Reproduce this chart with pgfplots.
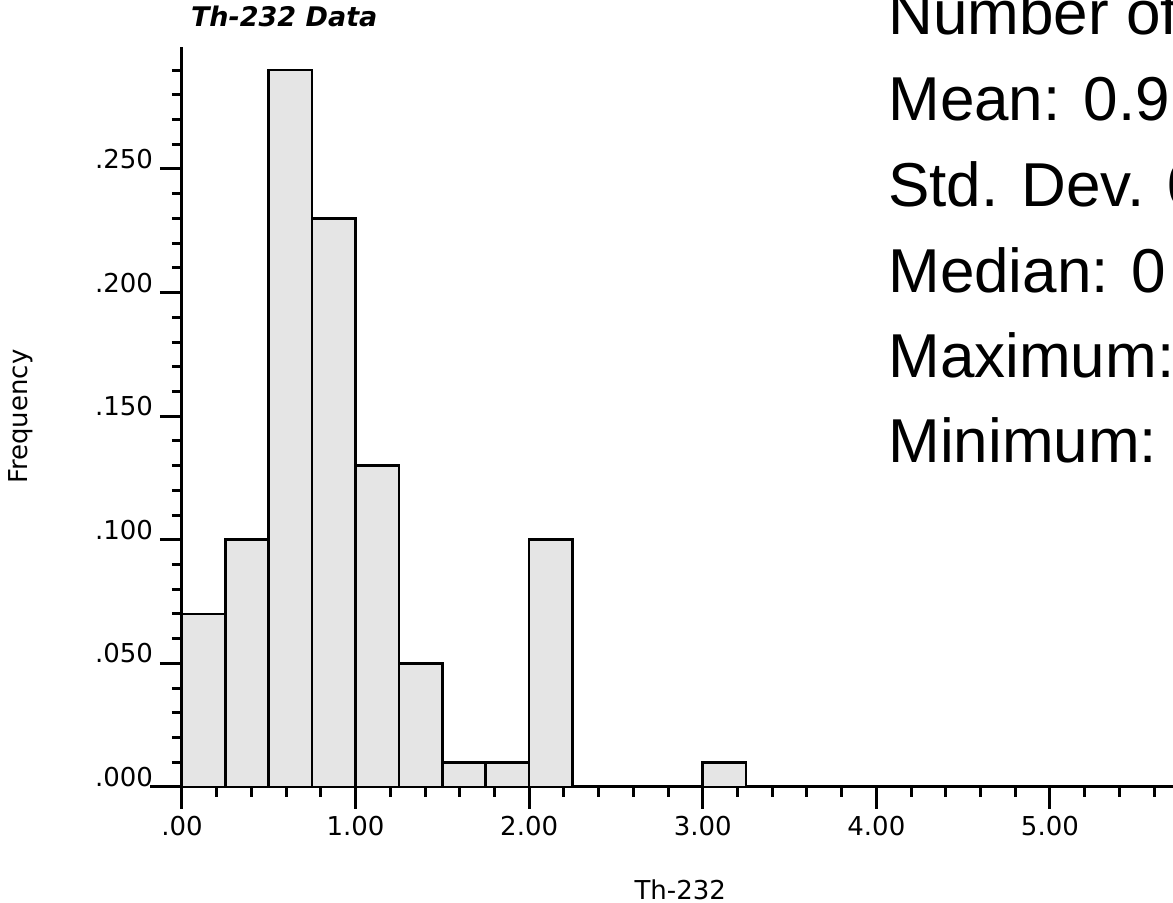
\documentclass[border=0pt]{standalone}
\usepackage{fontspec}
\setmainfont{DejaVu Sans}
\newfontfamily\arialf{Liberation Sans}
\usepackage{pgfplots}
\pgfplotsset{compat=1.18}
\begin{document}
\begin{tikzpicture}[x=0.5pt,y=0.5pt]
\useasboundingbox (0,0) rectangle (1173,903);
\clip (0,0) rectangle (1173,903);
\begin{axis}[
  at={(91pt,58pt)}, anchor=south west,
  scale only axis, width=498.2pt, height=370.2pt,
  xmin=0, xmax=5.74, ymin=0, ymax=0.2995,
  axis lines=left,
  axis line style={-, line width=1.5pt, black},
  tick align=outside,
  major tick length=11pt, minor tick length=5pt,
  every tick/.style={line width=1.5pt, black},
  xtick={0,1,2,3,4,5},
  xticklabels={.00,1.00,2.00,3.00,4.00,5.00},
  minor xtick={0.2,0.4,0.6,0.8,1.2,1.4,1.6,1.8,2.2,2.4,2.6,2.8,3.2,3.4,3.6,3.8,4.2,4.4,4.6,4.8,5.2,5.4,5.6},
  ytick={0,0.05,0.1,0.15,0.2,0.25},
  yticklabels={.000,.050,.100,.150,.200,.250},
  minor ytick={0.01,0.02,0.03,0.04,0.06,0.07,0.08,0.09,0.11,0.12,0.13,0.14,0.16,0.17,0.18,0.19,0.21,0.22,0.23,0.24,0.26,0.27,0.28,0.29},
  /pgf/number format/assume math mode=true,
  ticklabel style={font=\fontsize{13pt}{15pt}\selectfont},
  yticklabel style={yshift=5pt},
  xlabel={Th-232},
  ylabel={Frequency},
  xlabel style={font=\fontsize{13pt}{15pt}\selectfont, at={(axis description cs:0.5,0)}, anchor=center, yshift=-51.5pt},
  ylabel style={font=\fontsize{13pt}{15pt}\selectfont, at={(axis description cs:-0.1616,0.5)}, anchor=center},
  title={Th-232 Data},
  title style={font=\fontsize{13.5pt}{15pt}\selectfont\bfseries\itshape, at={(axis description cs:0,1)}, anchor=base west, xshift=1pt, yshift=4pt},
  clip=false,
]
\addplot[ybar interval, fill=gray!20, draw=black, line width=1.3pt]
  coordinates {(0,0.07) (0.25,0.10) (0.5,0.29) (0.75,0.23) (1.0,0.13) (1.25,0.05) (1.5,0.01) (1.75,0.01) (2.0,0.10) (2.25,0) (2.5,0) (2.75,0) (3.0,0.01) (3.25,0)};
\draw[line width=1.5pt] (axis cs:-0.184,0) -- (axis cs:0,0);
\end{axis}
\begin{scope}[every node/.style={anchor=base west, inner sep=0pt, font=\arialf\fontsize{31pt}{36pt}\selectfont}]
\node at (888,903-35) {Number of};
\node at (888,903-121) {Mean: 0.9};
\node at (888,903-207) {Std. Dev. 0};
\node at (888,903-293) {Median: 0};
\node at (888,903-378) {Maximum:};
\node at (888,903-463) {Minimum:};
\end{scope}
\end{tikzpicture}
\end{document}
